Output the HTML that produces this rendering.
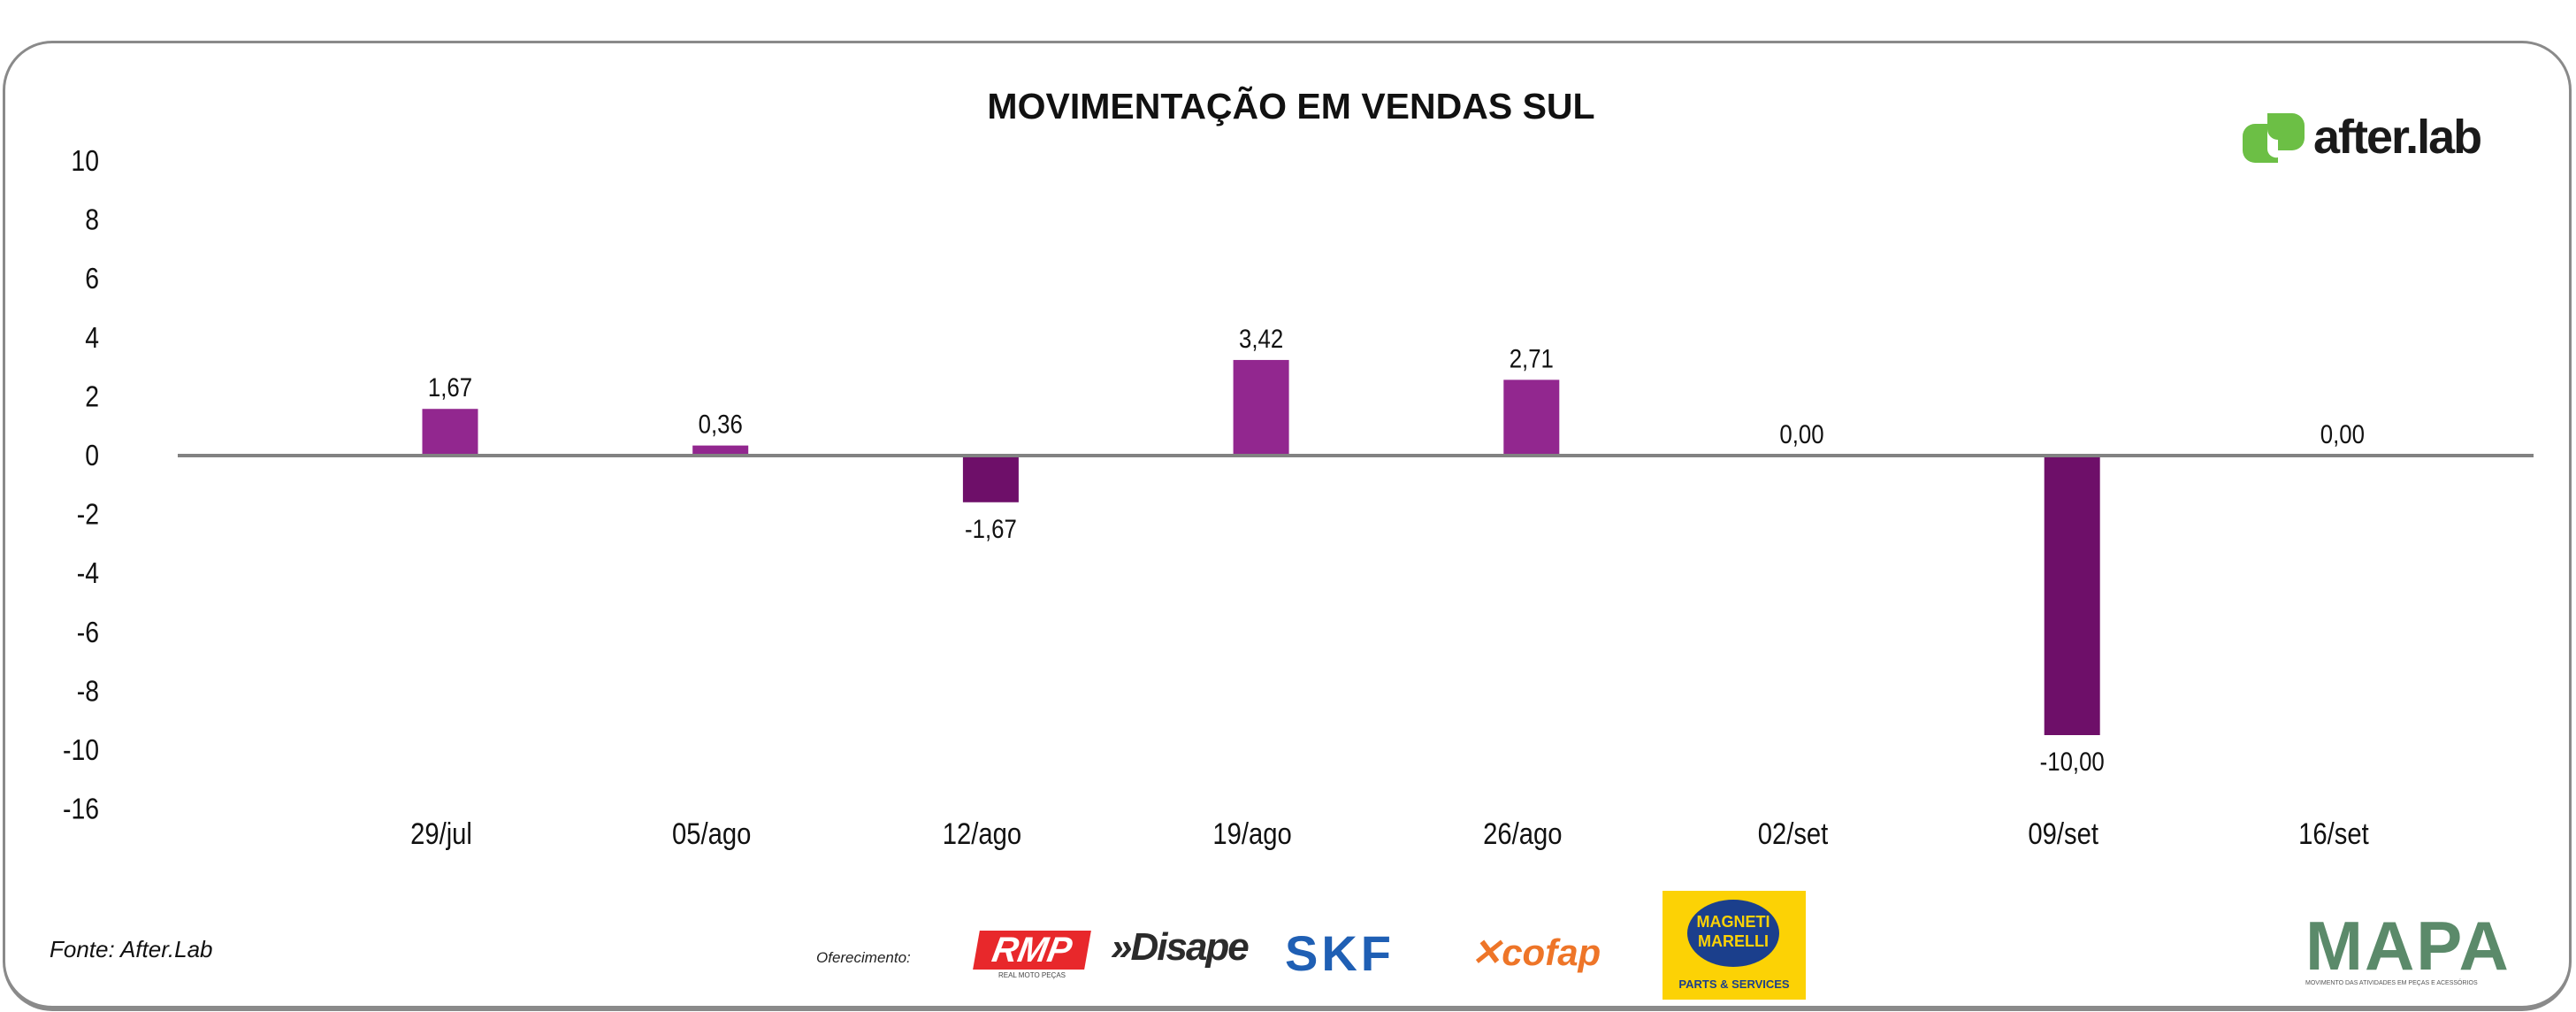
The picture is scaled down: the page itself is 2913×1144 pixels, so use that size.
<!DOCTYPE html>
<html><head><meta charset="utf-8"><style>
html,body{margin:0;padding:0;background:#fff;}
body{width:2913px;height:1144px;position:relative;overflow:hidden;font-family:"Liberation Sans Narrow","Liberation Sans",sans-serif;}
#frame{position:absolute;left:3px;top:46px;width:2899px;height:1088px;border:3px solid #8a8a8a;border-bottom-width:6px;border-radius:56px;box-sizing:content-box;}
.abs{position:absolute;}
</style></head><body>
<div id="frame"></div>
<div class="abs" style="left:0;width:2920px;top:97px;text-align:center;font:bold 41px 'Liberation Sans',sans-serif;color:#111;">MOVIMENTAÇÃO EM VENDAS SUL</div>
<div class="abs" style="left:2536px;top:128px;width:280px;height:58px;">
<svg width="72" height="56" viewBox="0 0 72 56" style="position:absolute;left:0;top:0">
<path d="M28 0 H56 A14 14 0 0 1 70 14 V28 A14 14 0 0 1 56 42 H40 V30 A12 12 0 0 1 28 18 Z" fill="#6cbf45"/>
<path d="M28 12 V40 A10 10 0 0 0 40 50 V56 H14 A14 14 0 0 1 0 42 V26 A14 14 0 0 1 14 12 Z" fill="#6cbf45"/>
</svg>
<span style="position:absolute;left:80px;top:-4px;font:bold 54px 'Liberation Sans',sans-serif;color:#1a1a1a;letter-spacing:-2px;">after.lab</span>
</div>
<svg id="chart" class="abs" style="left:0;top:0" width="2913" height="1144"></svg>
<div class="abs" style="left:56px;top:1058px;font:italic 26px 'Liberation Sans',sans-serif;color:#111;">Fonte: After.Lab</div>
<div class="abs" style="left:923px;top:1073px;font:italic 17px 'Liberation Sans',sans-serif;color:#222;">Oferecimento:</div>
<div class="abs" style="left:1104px;top:1052px;width:126px;height:48px;">
<div style="background:#e8282b;color:#fff;font:italic bold 40px 'Liberation Sans',sans-serif;line-height:44px;text-align:center;transform:skewX(-10deg);">RMP</div>
<div style="font:8px 'Liberation Sans',sans-serif;color:#444;text-align:center;margin-top:2px;">REAL MOTO PEÇAS</div></div>
<div class="abs" style="left:1256px;top:1046px;font:italic bold 44px 'Liberation Sans',sans-serif;color:#2b2b2b;letter-spacing:-2px;">»Disape</div>
<div class="abs" style="left:1453px;top:1050px;font:bold 56px 'Liberation Sans',sans-serif;color:#1f5fb4;letter-spacing:4px;line-height:56px;">SKF</div>
<div class="abs" style="left:1663px;top:1052px;font:italic bold 42px 'Liberation Sans',sans-serif;color:#ee7528;">✕cofap</div>
<div class="abs" style="left:1880px;top:1007px;width:162px;height:123px;background:#fcd205;">
<div style="position:absolute;left:28px;top:10px;width:104px;height:76px;border-radius:50%;background:#1b3f8c;color:#fcd205;font:bold 18px 'Liberation Sans',sans-serif;text-align:center;line-height:22px;padding-top:14px;box-sizing:border-box;">MAGNETI<br>MARELLI</div>
<div style="position:absolute;left:0;right:0;top:98px;text-align:center;font:bold 13px 'Liberation Sans',sans-serif;color:#1b3f8c;">PARTS &amp; SERVICES</div></div>
<div class="abs" style="left:2607px;top:1030px;width:230px;">
<div style="font:bold 78px 'Liberation Sans',sans-serif;line-height:78px;color:#5b8a6a;letter-spacing:2px;">MAPA</div>
<div style="font:7px 'Liberation Sans',sans-serif;color:#555;">MOVIMENTO DAS ATIVIDADES EM PEÇAS E ACESSÓRIOS</div></div>
<script>
const categories = ["29/jul","05/ago","12/ago","19/ago","26/ago","02/set","09/set","16/set"];
const values = [1.67, 0.36, -1.67, 3.42, 2.71, 0.00, -10.00, 0.00];
const valueLabels = ["1,67","0,36","-1,67","3,42","2,71","0,00","-10,00","0,00"];
const yTicks = [10, 8, 6, 4, 2, 0, -2, -4, -6, -8, -10];
const yTickLabels = ["10","8","6","4","2","0","-2","-4","-6","-8","-10"];
const extraTickLabel = "-16";

const NS = "http://www.w3.org/2000/svg";
const svg = document.getElementById("chart");
const zeroY = 515, tickUnit = 33.3, barUnit = 31.6;
function yScale(v){ return zeroY - v * tickUnit; }
function barY(v){ return zeroY - v * barUnit; }
function xScale(i){ return 509 + i * 305.7; }
function mk(tag, attrs, text){
  const e = document.createElementNS(NS, tag);
  for (const k in attrs) e.setAttribute(k, attrs[k]);
  if (text !== undefined) e.textContent = text;
  svg.appendChild(e);
  return e;
}
const font = '"Liberation Sans",sans-serif';
function txt(x, y, anchor, size, s){
  return mk("text", {x:0, y:0, transform:"translate(" + x + "," + y + ") scale(0.86,1)", "text-anchor":anchor, "font-size":size, "font-family":font, fill:"#111"}, s);
}
yTicks.forEach((t, i) => {
  const el = txt(112, yScale(t)+11, "end", 33, yTickLabels[i]);
  
  
});
const ex = txt(112, yScale(-12)+11, "end", 33, extraTickLabel);



values.forEach((v, i) => {
  const cx = xScale(i), w = 63;
  const y0 = barY(Math.max(v, 0)), h = Math.abs(v) * barUnit;
  const bar = mk("rect", {x:cx - w/2, y:y0, width:w, height:h, fill: v < 0 ? "#6e0f69" : "#92278f"});
  
  
  const ly = v < 0 ? barY(v) + 40 : barY(v) - 14;
  const lab = txt(cx, ly, "middle", 30, valueLabels[i]);
  
  
  const cl = txt(cx - 10, 954, "middle", 34, categories[i]);
  
  
});
const axis = mk("line", {x1:201, x2:2865, y1:zeroY, y2:zeroY, stroke:"#828282", "stroke-width":4});


</script>
</body></html>
